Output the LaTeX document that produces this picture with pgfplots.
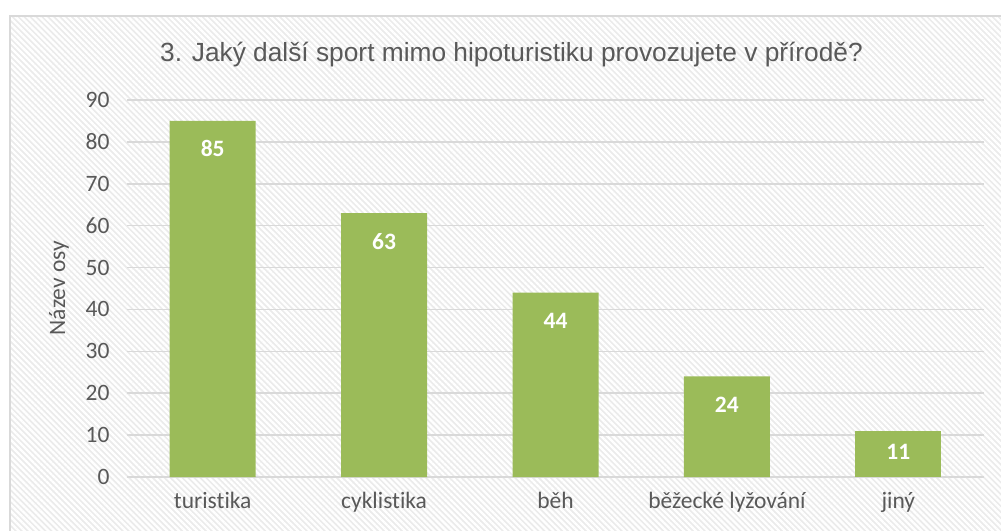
\documentclass[border=0pt]{standalone}
\usepackage{pgfplots}
\pgfplotsset{compat=1.18}
\usepackage{fontspec}
\setmainfont{Carlito}[Ligatures=NoCommon]
\newfontfamily\titlefont{Liberation Sans}
\usetikzlibrary{patterns.meta}
\definecolor{bargreen}{HTML}{9BBB59}
\definecolor{txtgray}{HTML}{595959}
\definecolor{gridgray}{HTML}{D9D9D9}
\definecolor{bggray}{HTML}{EBEBEB}
\begin{document}
\begin{tikzpicture}
\useasboundingbox (0pt,0pt) rectangle (1001pt,530pt);
\begin{scope}
\clip (0pt,0pt) rectangle (1001pt,530pt);
\fill[white] (0pt,0pt) rectangle (1001pt,530pt);
\path[preaction={fill=bggray}, pattern={Lines[angle=-45,distance=4.2pt,line width=2.3pt]}, pattern color=white] (10pt,-20pt) rectangle (1030pt,514pt);
\draw[gridgray, line width=1.5pt] (10pt,-20pt) rectangle (1030pt,514pt);
\end{scope}
\node[font=\titlefont\fontsize{26.3}{30}\selectfont, text=txtgray] at (511.5pt,475pt) {3. Jaký další sport mimo hipoturistiku provozujete v přírodě?};
\node[font=\fontsize{23.5}{27}\selectfont, text=txtgray, rotate=90] at (59pt,242pt) {Název osy};
\begin{axis}[
  at={(127pt,53pt)}, anchor=south west,
  scale only axis, width=857pt, height=377pt,
  xmin=-0.5, xmax=4.5, ymin=0, ymax=90,
  ytick={0,10,...,90},
  xtick={0,1,2,3,4},
  xticklabels={turistika,cyklistika,běh,běžecké lyžování,jiný},
  axis line style={draw=none},
  major tick length=0pt,
  ymajorgrids, grid style={gridgray, line width=1.5pt},
  /pgf/number format/assume math mode=true,
  tick label style={font=\fontsize{23.5}{27}\selectfont, text=txtgray},
  yticklabel style={xshift=-14pt},
  xticklabel style={yshift=-12pt},
  clip=false,
]
\addplot[ybar, bar width=86pt, fill=bargreen, draw=none,
  nodes near coords,
  every node near coord/.append style={font=\bfseries\fontsize{23.5}{27}\selectfont, text=white, anchor=center, yshift=-28pt}]
  coordinates {(0,85) (1,63) (2,44) (3,24)};
\addplot[ybar, bar width=86pt, fill=bargreen, draw=none,
  nodes near coords,
  every node near coord/.append style={font=\bfseries\fontsize{23.5}{27}\selectfont, text=white, anchor=center, yshift=-21pt}]
  coordinates {(4,11)};
\end{axis}
\end{tikzpicture}
\end{document}
